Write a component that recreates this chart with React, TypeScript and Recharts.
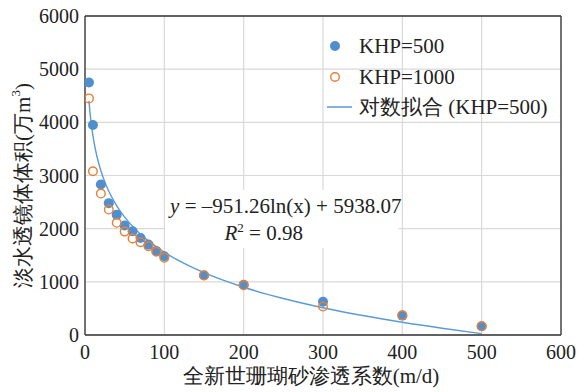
import React from 'react';
import {
  ComposedChart, Scatter, Line, XAxis, YAxis, CartesianGrid, ReferenceLine, ReferenceArea, Legend,
} from 'recharts';

// Permeability coefficient (m/d)
const kValues = [5, 10, 20, 30, 40, 50, 60, 70, 80, 90, 100, 150, 200, 300, 400, 500];
// Freshwater lens volume (10^4 m3)
const khp500 = [4750, 3950, 2830, 2480, 2260, 2060, 1950, 1825, 1700, 1580, 1480, 1125, 945, 625, 365, 165];
const khp1000 = [4450, 3080, 2660, 2360, 2110, 1945, 1815, 1745, 1670, 1565, 1455, 1120, 935, 535, 370, 165];

// Logarithmic fit curve (KHP=500), read along the drawn trendline
const fitX = [5, 6, 7, 8, 10, 12, 15, 20, 25, 30, 40, 50, 60, 70, 80, 100, 125, 150, 200, 250, 300, 350, 400, 450, 500];
const fitY = [4407, 4234, 4087, 3960, 3748, 3574, 3362, 3088, 2876, 2703, 2429, 2217, 2043, 1897, 1770, 1557, 1345, 1172, 898, 686, 512, 366, 239, 127, 26];

const xTicks = [0, 100, 200, 300, 400, 500, 600];
const yTicks = [0, 1000, 2000, 3000, 4000, 5000, 6000];

const seriesNames = ['KHP=500', 'KHP=1000', '对数拟合 (KHP=500)'];
const xLabel = '全新世珊瑚砂渗透系数(m/d)';
const equationText = ' = –951.26ln(x) + 5938.07';
const r2Text = ' = 0.98';

const BLUE = '#4f8fce';
const ORANGE = '#ed7d31';
const LINE = '#5b9bd5';
const FONT = '"Liberation Serif", "Times New Roman", Times, "DejaVu Serif", serif';

const data500 = kValues.map((x, i) => ({ x, y: khp500[i] }));
const data1000 = kValues.map((x, i) => ({ x, y: khp1000[i] }));
const fitData = fitX.map((x, i) => ({ x, y: fitY[i] }));

const textStyle = { fontFamily: FONT };

const LegendContent = () => (
  <div style={{ fontFamily: FONT, fontSize: 21, color: '#222' }}>
    {seriesNames.map((name, i) => (
      <div key={name} style={{ display: 'flex', alignItems: 'center', height: 30.5 }}>
        <svg width={34} height={30} style={{ flex: 'none' }}>
          {i === 0 && <circle cx={15} cy={15} r={5} fill={BLUE} />}
          {i === 1 && <circle cx={15} cy={15} r={4.3} fill="none" stroke={ORANGE} strokeWidth={1.4} />}
          {i === 2 && <line x1={7} y1={15} x2={32} y2={15} stroke={LINE} strokeWidth={1.5} />}
        </svg>
        <span style={{ marginLeft: 5, whiteSpace: 'nowrap', lineHeight: '30px', fontFamily: FONT }}>{name}</span>
      </div>
    ))}
  </div>
);

const EquationLabel = (props: any) => {
  const vb = props.viewBox || {};
  const cx = vb.x + vb.width / 2;
  return (
    <g fill="#222" fontSize={21} style={textStyle}>
      <text x={cx + 4} y={vb.y + 23} textAnchor="middle" style={textStyle}>
        <tspan fontStyle="italic">y</tspan>
        <tspan>{equationText}</tspan>
      </text>
      <text x={cx - 18} y={vb.y + 50} textAnchor="middle" style={textStyle}>
        <tspan fontStyle="italic">R</tspan>
        <tspan fontSize={13} dy={-8}>2</tspan>
        <tspan dy={8}>{r2Text}</tspan>
      </text>
    </g>
  );
};

const XAxisLabel = (props: any) => {
  const vb = props.viewBox || {};
  return (
    <text x={vb.x + vb.width / 2 - 12} y={vb.y + 48} textAnchor="middle" style={textStyle} fontSize={21} fill="#222">
      {xLabel}
    </text>
  );
};

const YAxisLabel = (props: any) => {
  const vb = props.viewBox || {};
  const cx = 23;
  const cy = vb.y + vb.height / 2 + 10;
  return (
    <text x={cx} y={cy} transform={`rotate(-90, ${cx}, ${cy})`} textAnchor="middle" dominantBaseline="central"
      style={textStyle} fontSize={21} fill="#222">
      淡水透镜体体积(万m<tspan fontSize={13} dy={-8}>3</tspan><tspan dy={8}>)</tspan>
    </text>
  );
};

export default function App() {
  return (
    <div style={{ position: 'absolute', left: 0, top: 0, width: 584, height: 392, background: '#fff', fontFamily: FONT }}>
      <ComposedChart width={584} height={392} margin={{ top: 16, right: 23, bottom: 0, left: 0 }} style={textStyle}>
        <CartesianGrid stroke="#d9d9d9" strokeWidth={1.2} />
        <XAxis
          dataKey="x"
          type="number"
          domain={[0, 600]}
          ticks={xTicks}
          height={57}
          tickSize={0}
          tickMargin={10}
          axisLine={{ stroke: '#333', strokeWidth: 1.3 }}
          tickLine={false}
          tick={{ fontSize: 20, fill: '#222', style: textStyle }}
          allowDataOverflow
          label={<XAxisLabel />}
        />
        <YAxis
          dataKey="y"
          type="number"
          domain={[0, 6000]}
          ticks={yTicks}
          width={85}
          tickSize={0}
          tickMargin={6}
          axisLine={{ stroke: '#333', strokeWidth: 1.3 }}
          tickLine={false}
          tick={{ fontSize: 20, fill: '#222', style: textStyle }}
          allowDataOverflow
          label={<YAxisLabel />}
        />
        <ReferenceLine y={6000} stroke="#333" strokeWidth={1.3} />
        <ReferenceLine x={600} stroke="#333" strokeWidth={1.3} />
        <ReferenceArea x1={101} x2={395} y1={1636} y2={2727} fill="#fff" fillOpacity={1} stroke="none"
          label={<EquationLabel />} />
        <Legend layout="vertical" align="center" verticalAlign="middle" content={<LegendContent />}
          wrapperStyle={{ left: 320, top: 31, width: 250, height: 92 }} />
        <Scatter name={seriesNames[0]} data={data500} dataKey="y" fill={BLUE} isAnimationActive={false}
          shape={(p: any) => <circle cx={p.cx} cy={p.cy} r={5} fill={BLUE} />} />
        <Scatter name={seriesNames[1]} data={data1000} dataKey="y" fill="none" isAnimationActive={false}
          shape={(p: any) => <circle cx={p.cx} cy={p.cy} r={4.3} fill="none" stroke={ORANGE} strokeWidth={1.4} />} />
        <Line name={seriesNames[2]} data={fitData} dataKey="y" type="monotone" stroke={LINE} strokeWidth={1.4}
          dot={false} activeDot={false} isAnimationActive={false} />
      </ComposedChart>
    </div>
  );
}
